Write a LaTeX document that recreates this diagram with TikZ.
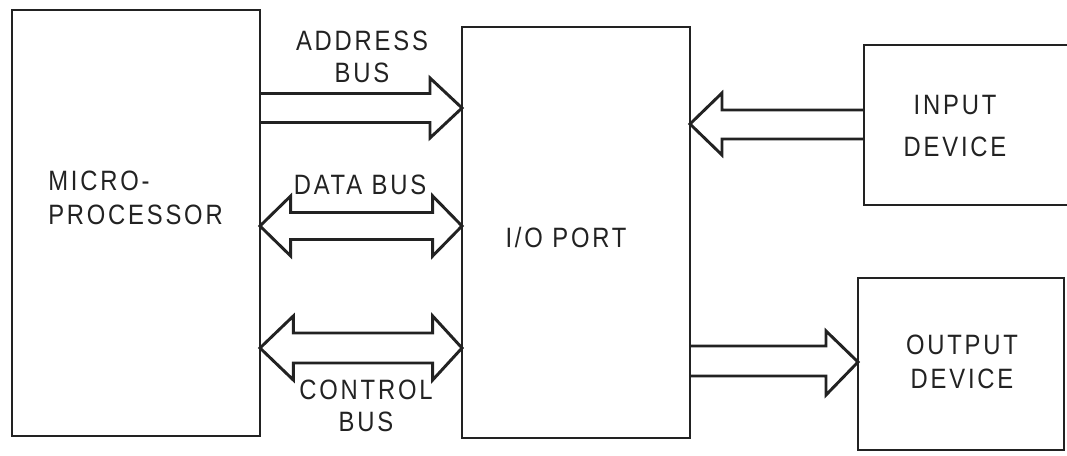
\documentclass[tikz,border=0pt]{standalone}
\usepackage{fontspec}
\setmainfont{Liberation Sans}[FakeStretch=0.85,LetterSpace=10]
\usetikzlibrary{calc}
\definecolor{ink}{HTML}{222222}
\begin{document}
\begin{tikzpicture}[x=0.75pt,y=-0.75pt,
  blk/.style={draw=ink,line width=2.2pt,minimum width=#1,inner sep=0pt,outer sep=0pt},
  lbl/.style={text=ink,font=\fontsize{21}{24}\selectfont,align=center,inner sep=0pt},
  bus/.style={draw=ink,line width=2.2pt,line join=miter}]
\useasboundingbox (0,0) rectangle (1067,456);
\fill[white] (0,0) rectangle (1067,456);
% boxes
\node[blk=248*0.75pt,minimum height=426*0.75pt] (mp) at (136,223) {};
\node[blk=228*0.75pt,minimum height=411*0.75pt] (io) at (576,232.5) {};
\node[blk=214*0.75pt,minimum height=160*0.75pt] (in) at (971,125) {};
\node[blk=206*0.75pt,minimum height=172*0.75pt] (out) at (961,364) {};
% texts
\node[lbl,align=left,anchor=west,font=\fontsize{21}{26}\selectfont] (mptxt) at (48,198) {MICRO-\\PROCESSOR};
\node[lbl] (iotxt) at (566,237) {I/O PORT};
\node[lbl,font=\fontsize{21}{31}\selectfont] (intxt) at (955,126) {INPUT\\DEVICE};
\node[lbl,font=\fontsize{21}{26}\selectfont] (outtxt) at (962,362) {OUTPUT\\DEVICE};
\node[lbl] (abus) at (362,57) {ADDRESS\\BUS};
\node[lbl] (dbus) at (360,185) {DATA BUS};
\node[lbl] (cbus) at (366,406) {CONTROL\\BUS};
% address bus: mp -> io
\path let \p1=(mp.east), \p2=(io.west) in
  coordinate (a1) at (\x1,108) coordinate (a2) at (\x2,108);
\draw[bus] let \p1=(a1), \p2=(a2) in
  (\x1,93.5) -- (\x2-24,93.5) -- (\x2-24,78) -- (\p2) -- (\x2-24,138) -- (\x2-24,122.5) -- (\x1,122.5);
% data bus: mp <-> io
\path let \p1=(mp.east), \p2=(io.west) in
  coordinate (d1) at (\x1,226) coordinate (d2) at (\x2,226);
\draw[bus] let \p1=(d1), \p2=(d2) in
  (\p1) -- (\x1+23,196) -- (\x1+23,212.5) -- (\x2-22,212.5) -- (\x2-22,196) -- (\p2)
  -- (\x2-22,256) -- (\x2-22,239.5) -- (\x1+23,239.5) -- (\x1+23,256) -- cycle;
% control bus: mp <-> io
\path let \p1=(mp.east), \p2=(io.west) in
  coordinate (c1) at (\x1,348) coordinate (c2) at (\x2,348);
\draw[bus] let \p1=(c1), \p2=(c2) in
  (\p1) -- (\x1+25,316) -- (\x1+25,333) -- (\x2-22,333) -- (\x2-22,316) -- (\p2)
  -- (\x2-22,380) -- (\x2-22,363) -- (\x1+25,363) -- (\x1+25,380) -- cycle;
% input device -> io
\path let \p1=(in.west), \p2=(io.east) in
  coordinate (i1) at (\x1,124) coordinate (i2) at (\x2,124);
\draw[bus] let \p1=(i1), \p2=(i2) in
  (\x1,110) -- (\x2+24,110) -- (\x2+24,93) -- (\p2) -- (\x2+24,155) -- (\x2+24,139) -- (\x1,139);
% io -> output device
\path let \p1=(io.east), \p2=(out.west) in
  coordinate (o1) at (\x1,362) coordinate (o2) at (\x2,362);
\draw[bus] let \p1=(o1), \p2=(o2) in
  (\x1,346) -- (\x2-24,346) -- (\x2-24,331) -- (\p2) -- (\x2-24,395) -- (\x2-24,376) -- (\x1,376);
\end{tikzpicture}
\end{document}
